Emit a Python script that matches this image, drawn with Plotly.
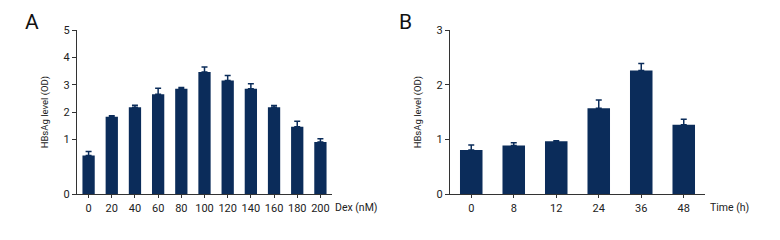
import plotly.graph_objects as go

# Panel A: Dex concentration (axis units: linear, tick "1" sits at 2 on the drawn scale)
dex_labels = ["0", "20", "40", "60", "80", "100", "120", "140", "160", "180", "200"]
dex_values = [1.42, 2.83, 3.18, 3.65, 3.85, 4.47, 4.16, 3.85, 3.18, 2.47, 1.91]
dex_errors = [0.14, 0.04, 0.07, 0.22, 0.05, 0.18, 0.18, 0.19, 0.06, 0.20, 0.12]
a_tickvals = [0, 2, 3, 4, 5, 6]
a_ticktext = ["0", "1", "2", "3", "4", "5"]

# Panel B: time course
time_labels = ["0", "8", "12", "24", "36", "48"]
time_values = [0.81, 0.89, 0.97, 1.57, 2.26, 1.27]
time_errors = [0.09, 0.05, 0.01, 0.15, 0.13, 0.10]
b_tickvals = [0, 1, 2, 3]
b_ticktext = ["0", "1", "2", "3"]

BAR = "#0b2c5a"
AXIS = "#333333"
FONT = "Roboto, Liberation Sans, sans-serif"

# the page body has an 8px margin; the figure is sized/positioned to compensate
OFF = 8
W, H = 780 - OFF, 240 - OFF


def px(x):
    return (x - OFF) / W


def py(y):
    return 1 - (y - OFF) / H


fig = go.Figure()
fig.add_trace(go.Bar(
    x=dex_labels, y=dex_values, marker=dict(color=BAR, line=dict(width=0)),
    error_y=dict(type="data", array=dex_errors, arrayminus=[0] * len(dex_errors),
                 symmetric=False, color=BAR, thickness=1.5, width=3),
    xaxis="x", yaxis="y", showlegend=False))
fig.add_trace(go.Bar(
    x=time_labels, y=time_values, marker=dict(color=BAR, line=dict(width=0)),
    error_y=dict(type="data", array=time_errors, arrayminus=[0] * len(time_errors),
                 symmetric=False, color=BAR, thickness=1.5, width=3),
    xaxis="x2", yaxis="y2", showlegend=False))

ydom = [py(194.3), py(30)]

common_x = dict(type="category", showline=True, linecolor=AXIS, linewidth=1,
                ticks="outside", ticklen=3, tickcolor=AXIS, tickwidth=1,
                showgrid=False, zeroline=False, automargin=False,
                tickfont=dict(family=FONT, size=11, color="#222"), fixedrange=True)
common_y = dict(showline=True, linecolor=AXIS, linewidth=1,
                ticks="outside", ticklen=4, tickcolor=AXIS, tickwidth=1,
                showgrid=False, zeroline=False, automargin=False,
                tickfont=dict(family=FONT, size=11, color="#222"),
                title=dict(text="HBsAg level (OD)", font=dict(family=FONT, size=9.5, color="#222"),
                           standoff=13))

fig.update_layout(
    width=W, height=H,
    margin=dict(l=0, r=0, t=0, b=0, autoexpand=False),
    paper_bgcolor="white", plot_bgcolor="white",
    bargap=0.47,
    xaxis=dict(domain=[px(77), px(332)], range=[-0.5, 10.5], anchor="y", **common_x),
    yaxis=dict(domain=ydom, range=[0, 6], anchor="x", tickvals=a_tickvals,
               ticktext=a_ticktext, **common_y),
    xaxis2=dict(domain=[px(450), px(705)], range=[-0.5, 5.5], anchor="y2", **common_x),
    yaxis2=dict(domain=ydom, range=[0, 3], anchor="x2", tickvals=b_tickvals,
                ticktext=b_ticktext, **common_y),
    annotations=[
        dict(text="A", x=px(23), y=py(22), xref="paper", yref="paper",
             xanchor="left", yanchor="middle", showarrow=False,
             font=dict(family=FONT, size=21, color="#111")),
        dict(text="B", x=px(397), y=py(22), xref="paper", yref="paper",
             xanchor="left", yanchor="middle", showarrow=False,
             font=dict(family=FONT, size=21, color="#111")),
        dict(text="Dex (nM)", x=px(333), y=py(207), xref="paper", yref="paper",
             xanchor="left", yanchor="middle", showarrow=False,
             font=dict(family=FONT, size=10.5, color="#222")),
        dict(text="Time (h)", x=px(708), y=py(207), xref="paper", yref="paper",
             xanchor="left", yanchor="middle", showarrow=False,
             font=dict(family=FONT, size=10.5, color="#222")),
    ],
)

fig.write_html("out.html")
